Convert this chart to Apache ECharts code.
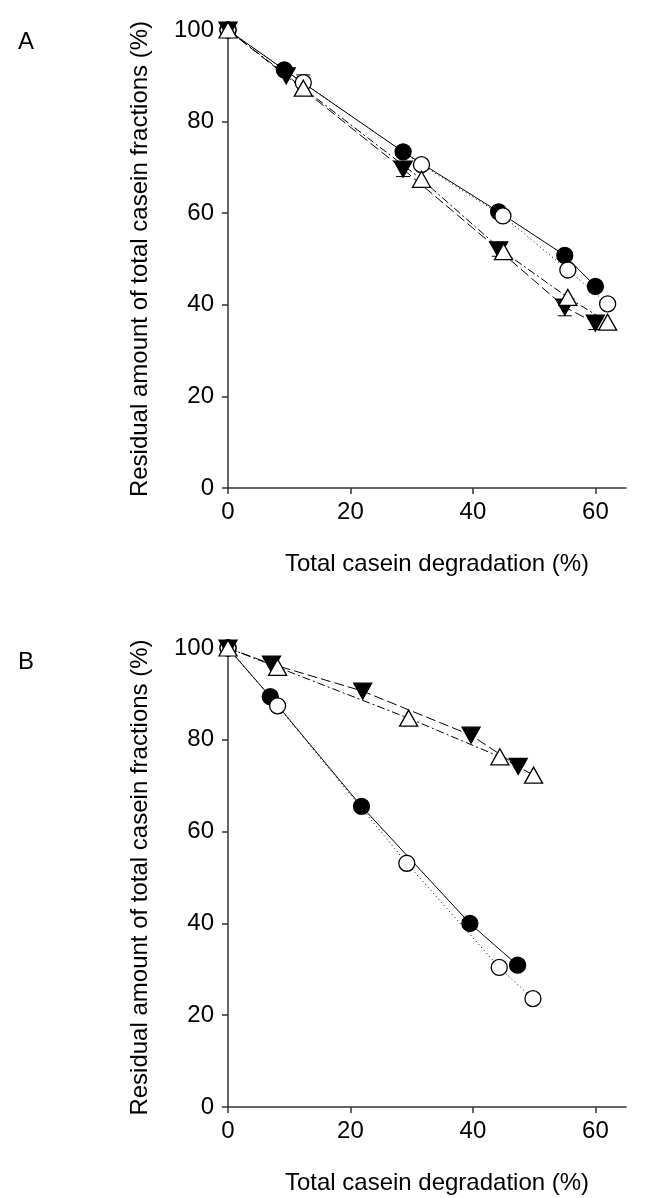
<!DOCTYPE html>
<html>
<head>
<meta charset="utf-8">
<script src="https://cdn.jsdelivr.net/npm/echarts/dist/echarts.min.js"></script>
<style>
  html, body { margin: 0; padding: 0; background: #fff; }
  #main { width: 653px; height: 1198px; }
</style>
</head>
<body>
<div id="main"></div>
<script>
// panel A
var aCircleFillX = [0, 9.2, 28.6, 44.2, 55.0, 60.0];
var aCircleFillY = [100, 91.3, 73.4, 60.3, 50.8, 44.0];
var aCircleOpenX = [0, 12.3, 31.6, 44.9, 55.5, 62.0];
var aCircleOpenY = [100, 88.5, 70.6, 59.4, 47.6, 40.2];
var aTriDownX = [0, 9.5, 28.6, 44.2, 55.0, 60.0];
var aTriDownY = [100, 90.0, 69.6, 52.0, 39.5, 36.0];
var aTriUpX = [0, 12.3, 31.6, 45.0, 55.5, 62.0];
var aTriUpY = [100, 87.3, 67.4, 51.6, 41.6, 36.2];
// error bars A: [x, low, high]
var aErrors = [[12.3, 85.8, 90.2], [28.6, 68.0, 71.2], [44.2, 50.6, 53.2], [55.0, 37.6, 41.0], [60.0, 34.6, 37.4]];

// panel B
var bCircleFillX = [0, 6.9, 21.8, 39.5, 47.3];
var bCircleFillY = [100, 89.4, 65.5, 40.0, 30.9];
var bCircleOpenX = [0, 8.1, 29.2, 44.3, 49.8];
var bCircleOpenY = [100, 87.4, 53.1, 30.4, 23.6];
var bTriDownX = [0, 7.1, 22.0, 39.7, 47.4];
var bTriDownY = [100, 96.5, 90.6, 81.0, 74.2];
var bTriUpX = [0, 8.1, 29.5, 44.4, 49.9];
var bTriUpY = [100, 95.8, 84.7, 76.3, 72.3];

var yTicks = [0, 20, 40, 60, 80, 100];
var xTicks = [0, 20, 40, 60];
var panelNames = ['A', 'B'];
var xTitle = 'Total casein degradation (%)';
var yTitle = 'Residual amount of total casein fractions (%)';

var FONT = 'Liberation Sans, Arial, sans-serif';

function pairs(xs, ys) {
  return xs.map(function (x, i) { return [x, ys[i]]; });
}

function lineSeries(gi, xs, ys, symbol, filled, dash) {
  var tri = symbol !== 'circle';
  return {
    type: 'line',
    xAxisIndex: gi,
    yAxisIndex: gi,
    data: pairs(xs, ys),
    symbol: tri ? 'triangle' : 'circle',
    symbolRotate: symbol === 'down' ? 180 : 0,
    symbolSize: tri ? [18, 16] : 16,
    showAllSymbol: true,
    lineStyle: { color: '#000', width: 1, type: dash },
    itemStyle: { color: filled ? '#000' : '#fff', borderColor: '#000', borderWidth: 1.3 },
    emphasis: { disabled: true },
    z: 3
  };
}

function errorSeries(gi, data) {
  return {
    type: 'custom',
    xAxisIndex: gi,
    yAxisIndex: gi,
    data: data,
    encode: { x: 0, y: [1, 2] },
    z: 2,
    renderItem: function (params, api) {
      var x = api.value(0);
      var lo = api.coord([x, api.value(1)]);
      var hi = api.coord([x, api.value(2)]);
      var w = 7;
      var st = { stroke: '#000', lineWidth: 1 };
      return {
        type: 'group',
        children: [
          { type: 'line', shape: { x1: lo[0], y1: lo[1], x2: hi[0], y2: hi[1] }, style: st },
          { type: 'line', shape: { x1: lo[0] - w, y1: lo[1], x2: lo[0] + w, y2: lo[1] }, style: st },
          { type: 'line', shape: { x1: hi[0] - w, y1: hi[1], x2: hi[0] + w, y2: hi[1] }, style: st }
        ]
      };
    }
  };
}

function xAxisFor(gi) {
  return {
    type: 'value', gridIndex: gi, min: 0, max: 65, interval: 20,
    name: xTitle, nameLocation: 'middle', nameGap: 64,
    nameTextStyle: { fontFamily: FONT, fontSize: 24, color: '#000', padding: [0, 0, 0, 20] },
    axisLine: { lineStyle: { color: '#333', width: 1.5 } },
    axisTick: { inside: false, length: 6, customValues: xTicks, lineStyle: { color: '#333', width: 1.5 } },
    axisLabel: { margin: 12, fontFamily: FONT, fontSize: 24, color: '#000', customValues: xTicks },
    splitLine: { show: false }
  };
}

function yAxisFor(gi) {
  return {
    type: 'value', gridIndex: gi, min: 0, max: 100, interval: 20,
    name: yTitle, nameLocation: 'middle', nameGap: 76, nameRotate: 90,
    nameTextStyle: { fontFamily: FONT, fontSize: 24, color: '#000' },
    axisLine: { lineStyle: { color: '#333', width: 1.5 } },
    axisTick: { inside: false, length: 6, customValues: yTicks, lineStyle: { color: '#333', width: 1.5 } },
    axisLabel: { margin: 14, fontFamily: FONT, fontSize: 24, color: '#000', customValues: yTicks },
    splitLine: { show: false }
  };
}

var chart = echarts.init(document.getElementById('main'), null, { renderer: 'canvas' });

chart.setOption({
  animation: false,
  backgroundColor: '#fff',
  grid: [
    { left: 228, top: 30, width: 398, height: 458 },
    { left: 228, top: 648, width: 398, height: 459 }
  ],
  xAxis: [xAxisFor(0), xAxisFor(1)],
  yAxis: [yAxisFor(0), yAxisFor(1)],
  graphic: [
    { type: 'text', left: 18, top: 30, style: { text: panelNames[0], font: '24px "Liberation Sans Narrow", sans-serif', fill: '#000' } },
    { type: 'text', left: 18, top: 650, style: { text: panelNames[1], font: '24px "Liberation Sans Narrow", sans-serif', fill: '#000' } }
  ],
  series: [
    errorSeries(0, aErrors),
    lineSeries(0, aCircleFillX, aCircleFillY, 'circle', true, 'solid'),
    lineSeries(0, aCircleOpenX, aCircleOpenY, 'circle', false, [1, 3]),
    lineSeries(0, aTriDownX, aTriDownY, 'down', true, [10, 4]),
    lineSeries(0, aTriUpX, aTriUpY, 'up', false, [8, 3, 2, 3]),
    lineSeries(1, bCircleFillX, bCircleFillY, 'circle', true, 'solid'),
    lineSeries(1, bCircleOpenX, bCircleOpenY, 'circle', false, [1, 3]),
    lineSeries(1, bTriDownX, bTriDownY, 'down', true, [10, 4]),
    lineSeries(1, bTriUpX, bTriUpY, 'up', false, [8, 3, 2, 3])
  ]
});
</script>
</body>
</html>
